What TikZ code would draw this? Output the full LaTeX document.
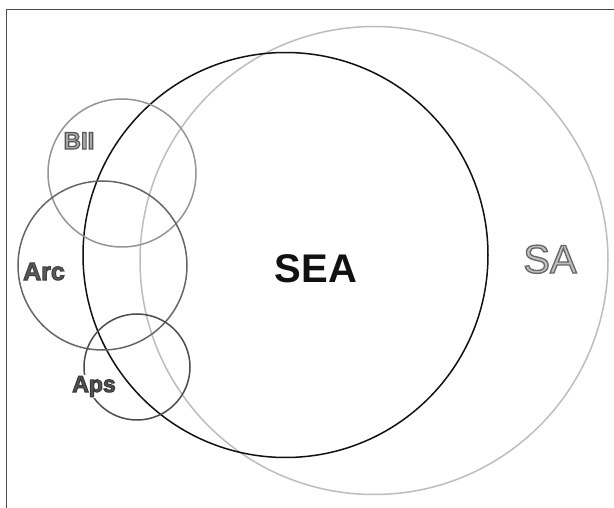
\documentclass[tikz,border=0pt]{standalone}
\usepackage{fontspec}
\setmainfont{Liberation Sans}

% Text drawn with a filled body and a stroked outline (PDF render mode 2)
\newcommand\strokedtext[3]{%
  \special{pdf:literal direct #1 w #2 G 2 Tr}#3\special{pdf:literal direct 0 Tr}}

\definecolor{framegray}{HTML}{4A4A4A}
\definecolor{sagray}{HTML}{BDBDBD}
\definecolor{bllgray}{HTML}{959595}
\definecolor{arcgray}{HTML}{666666}
\definecolor{apsgray}{HTML}{4C4C4C}
\definecolor{seablack}{HTML}{111111}
\definecolor{safill}{HTML}{C0C0C0}
\definecolor{bllfill}{HTML}{A8A8A8}
\definecolor{arcfill}{HTML}{5A5A5A}
\definecolor{apsfill}{HTML}{525252}

\tikzset{
  set/.style={circle, draw, line width=1.5pt, inner sep=0pt, minimum size=#1},
  lbl/.style={inner sep=1pt, anchor=base}
}

\begin{document}
\begin{tikzpicture}[x=1pt, y=-1pt]
  \useasboundingbox (0,0) rectangle (614,508);
  \fill[white] (0,0) rectangle (614,508);

  % frame, open towards the right and the bottom
  \coordinate (fbl) at (6.5,520);
  \coordinate (ftl) at (6.5,9.5);
  \coordinate (ftr) at (630,9.5);
  \draw[framegray, line width=1.8pt] (fbl) -- (ftl) -- (ftr);

  % sets
  \node[set=468pt, draw=sagray] (sa) at (374,260.5) {};
  \node[set=405pt, draw=seablack] (sea) at (285.5,255) {};
  \node[set=148pt, draw=bllgray] (bll) at (122,173) {};
  \node[set=169pt, draw=arcgray] (arc) at (102.5,265.5) {};
  \node[set=106pt, draw=apsgray] (aps) at (137,367) {};

  % labels
  \node[lbl, text=safill, font=\fontsize{40}{40}\selectfont] (salbl) at (550,273)
    {\strokedtext{1.3}{0.4}{SA}};
  \node[lbl, text=seablack, font=\fontsize{40}{40}\bfseries] (sealbl) at (316,283) {SEA};
  \node[lbl, text=bllfill, font=\fontsize{24}{24}\bfseries] (blllbl) at (79,149)
    {\strokedtext{1.1}{0.33}{BII}};
  \node[lbl, text=arcfill, font=\fontsize{25}{25}\bfseries] (arclbl) at (44,280)
    {\strokedtext{1}{0.25}{Arc}};
  \node[lbl, fill=white, text=apsfill, font=\fontsize{23}{23}\bfseries] (apslbl) at (94,392)
    {\strokedtext{1}{0.22}{Aps}};
\end{tikzpicture}
\end{document}
